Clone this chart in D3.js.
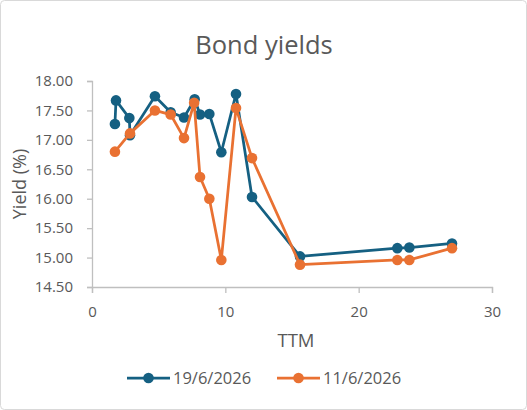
<!DOCTYPE html>
<html>
<head>
<meta charset="utf-8">
<script src="https://cdn.jsdelivr.net/npm/d3@7"></script>
<style>
  body { margin: 0; background: #fff; }
  text { font-family: "Open Sans", "Liberation Sans", sans-serif; fill: #595959; }
</style>
</head>
<body>
<div id="chart"></div>
<script>
// TTM values and yields
const ttmA = [1.72, 1.8, 2.8, 2.85, 4.72, 5.9, 6.9, 7.7, 8.1, 8.8, 9.7, 10.8, 12.0, 15.6, 22.9, 23.8, 27.0]
const yieldA = [17.27, 17.67, 17.37, 17.08, 17.74, 17.47, 17.38, 17.69, 17.43, 17.44, 16.79, 17.78, 16.03, 15.02, 15.16, 15.17, 15.24]

const ttmB = [1.72, 2.85, 4.72, 5.9, 6.9, 7.66, 8.1, 8.8, 9.7, 10.8, 12.0, 15.6, 22.9, 23.8, 27.0]
const yieldB = [16.80, 17.11, 17.50, 17.43, 17.03, 17.63, 16.37, 16.00, 14.96, 17.54, 16.69, 14.88, 14.96, 14.96, 15.16]

const seriesNames = ['19/6/2026', '11/6/2026']
const seriesColors = ['#156082', '#E97132']

const xTicks = [0, 10, 20, 30]
const yTicks = [14.5, 15, 15.5, 16, 16.5, 17, 17.5, 18]

const W = 527, H = 410
const margin = { left: 92, right: 35, top: 81, bottom: 123 }
const width = W - margin.left - margin.right
const height = H - margin.top - margin.bottom

const svg = d3.select('#chart')
    .append('svg')
    .attr('width', W)
    .attr('height', H)

// chart frame
svg.append('rect')
    .attr('x', 0.5).attr('y', 0.5)
    .attr('width', W - 1).attr('height', H - 1)
    .attr('rx', 4)
    .attr('fill', '#fff')
    .attr('stroke', '#D9D9D9')

svg.append('text')
    .text('Bond yields')
    .attr('x', 264)
    .attr('y', 54)
    .attr('text-anchor', 'middle')
    .style('font-size', '25.5px')

const g = svg.append('g')
    .attr('transform', `translate(${margin.left},${margin.top})`)

////////////////////////////////////
//////////////scales////////////////
////////////////////////////////////
const xScale = d3.scaleLinear().domain([0, 30]).range([0, width])
const yScale = d3.scaleLinear().domain([14.5, 18]).range([height, 0])

////////////////////////////////////
///////////// axis /////////////////
////////////////////////////////////
const xAxis = d3.axisBottom(xScale).tickValues(xTicks).tickFormat(d3.format('d')).tickSize(6).tickPadding(10)
const yAxis = d3.axisLeft(yScale).tickValues(yTicks).tickFormat(d3.format('.2f')).tickSize(5).tickPadding(14)

const gx = g.append('g')
    .attr('transform', `translate(0,${height})`)
    .call(xAxis)
const gy = g.append('g').call(yAxis)

for (const ax of [gx, gy]) {
    ax.select('.domain').attr('stroke', '#BFBFBF').attr('stroke-width', 1.3)
    ax.selectAll('.tick line').attr('stroke', '#BFBFBF').attr('stroke-width', 1.3)
    ax.selectAll('.tick text')
        .attr('fill', '#595959')
        .style('font-size', '15px')
        .style('font-family', '"Open Sans", sans-serif')
}
gx.selectAll('.tick text').attr('dy', '0.9em')

g.append('text')
    .text('TTM')
    .attr('x', width / 2 + 4)
    .attr('y', 347 - margin.top)
    .attr('text-anchor', 'middle')
    .style('font-size', '18.5px')

g.append('text')
    .text('Yield (%)')
    .attr('text-anchor', 'middle')
    .attr('transform', `translate(${26 - margin.left},${184 - margin.top}) rotate(-90)`)
    .style('font-size', '18px')

////////////////////////////////////
/////////// data points ////////////
////////////////////////////////////
const series = [
    ttmA.map((t, i) => ({ x: t, y: yieldA[i] })),
    ttmB.map((t, i) => ({ x: t, y: yieldB[i] }))
]

const line = d3.line().x(d => xScale(d.x)).y(d => yScale(d.y))

// orange drawn on top, as in the picture
series.forEach((pts, k) => {
    const s = g.append('g')
    s.append('path')
        .datum(pts)
        .attr('d', line)
        .attr('fill', 'none')
        .attr('stroke', seriesColors[k])
        .attr('stroke-width', 2.75)
        .attr('stroke-linejoin', 'round')
    s.selectAll('circle')
        .data(pts)
        .join('circle')
        .attr('cx', d => xScale(d.x))
        .attr('cy', d => yScale(d.y))
        .attr('r', 5.3)
        .attr('fill', seriesColors[k])
})

////////////////////////////////////
////////////// legend //////////////
////////////////////////////////////
const legendX = [127, 277]
const legend = svg.append('g').attr('transform', 'translate(0,378)')
seriesNames.forEach((name, k) => {
    const lg = legend.append('g').attr('transform', `translate(${legendX[k]},0)`)
    lg.append('line')
        .attr('x1', 0).attr('x2', 43)
        .attr('stroke', seriesColors[k])
        .attr('stroke-width', 2.75)
    lg.append('circle')
        .attr('cx', 21.5).attr('r', 5.3)
        .attr('fill', seriesColors[k])
    lg.append('text')
        .text(name)
        .attr('x', 46)
        .attr('dy', '0.35em')
        .style('font-size', '16.5px')
})
</script>
</body>
</html>
